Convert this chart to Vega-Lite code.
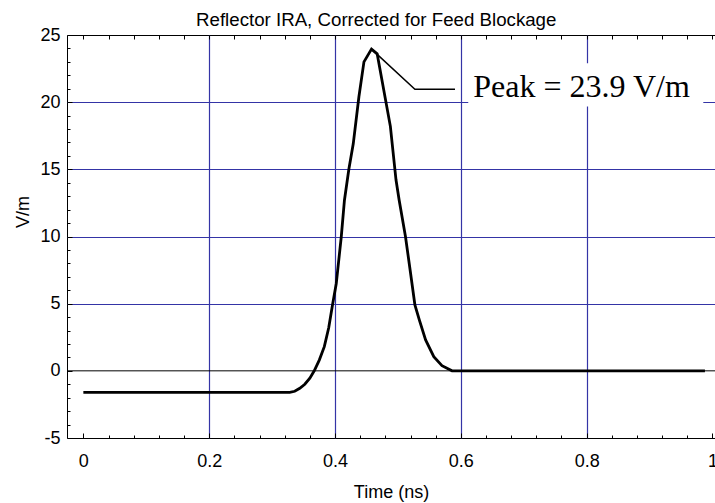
{
  "$schema": "https://vega.github.io/schema/vega-lite/v6.json",
  "width": 648,
  "height": 403,
  "autosize": {"type": "none"},
  "padding": {"left": 67, "top": 35, "right": 0, "bottom": 65},
  "background": "white",
  "config": {"view": {"stroke": "black", "strokeWidth": 1}},
  "title": {"text": "Reflector IRA, Corrected for Feed Blockage", "font": "Liberation Sans", "fontSize": 18.7, "fontWeight": "normal", "color": "black", "anchor": "start", "dx": 182, "baseline": "alphabetic", "offset": -19},
  "datasets": {
    "curve": [
      {"t": 0, "v": -1.6}, {"t": 0.328, "v": -1.6}, {"t": 0.336, "v": -1.52}, {"t": 0.344, "v": -1.3},
      {"t": 0.352, "v": -1.0}, {"t": 0.36, "v": -0.55}, {"t": 0.367, "v": 0.0}, {"t": 0.375, "v": 0.8},
      {"t": 0.383, "v": 1.8}, {"t": 0.39, "v": 3.2}, {"t": 0.396, "v": 4.9}, {"t": 0.402, "v": 6.5},
      {"t": 0.41, "v": 10.0}, {"t": 0.415, "v": 12.7}, {"t": 0.422, "v": 15.0}, {"t": 0.429, "v": 16.9},
      {"t": 0.438, "v": 20.4}, {"t": 0.446, "v": 23.0}, {"t": 0.458, "v": 23.95}, {"t": 0.467, "v": 23.6},
      {"t": 0.488, "v": 18.2}, {"t": 0.497, "v": 14.2}, {"t": 0.502, "v": 12.7}, {"t": 0.512, "v": 10.0},
      {"t": 0.52, "v": 7.3}, {"t": 0.527, "v": 4.9}, {"t": 0.534, "v": 3.8}, {"t": 0.544, "v": 2.3},
      {"t": 0.557, "v": 1.05}, {"t": 0.57, "v": 0.38}, {"t": 0.586, "v": 0.0}, {"t": 0.988, "v": 0.0}
    ],
    "callout": [
      {"t": 0.458, "v": 23.95}, {"t": 0.527, "v": 20.96}, {"t": 0.5907, "v": 20.96}
    ],
    "label": [{"t": 0.6198, "v": 20.41, "text": "Peak = 23.9 V/m"}],
    "box": [{"t": 0.6118, "t2": 0.9854, "v": 19.67, "v2": 22.9}],
    "zero": [{"v": 0}]
  },
  "resolve": {"axis": {"x": "independent", "y": "independent"}},
  "layer": [
    {
      "data": {"name": "box"},
      "mark": {"type": "rect", "fill": "white", "strokeWidth": 0},
      "encoding": {
        "x": {"field": "t", "type": "quantitative", "axis": null, "scale": {"domain": [-0.026, 1.004], "nice": false, "zero": false}},
        "x2": {"field": "t2"},
        "y": {"field": "v", "type": "quantitative", "axis": null, "scale": {"domain": [-5, 25], "nice": false, "zero": false}},
        "y2": {"field": "v2"}
      }
    },
    {
      "data": {"name": "zero"},
      "mark": {"type": "rule", "color": "black", "strokeWidth": 1},
      "encoding": {
        "y": {"field": "v", "type": "quantitative", "axis": null, "scale": {"domain": [-5, 25], "nice": false, "zero": false}}
      }
    },
    {
      "data": {"name": "curve"},
      "mark": {"type": "line", "color": "black", "strokeWidth": 2.8},
      "encoding": {
        "x": {"field": "t", "type": "quantitative", "scale": {"domain": [-0.026, 1.004], "nice": false, "zero": false},
          "axis": {"orient": "bottom", "values": [0, 0.2, 0.4, 0.6, 0.8, 1], "title": "Time (ns)",
            "titleFont": "Liberation Sans", "titleFontSize": 18, "titleFontWeight": "normal", "titleColor": "black",
            "titleBaseline": "alphabetic", "titleY": 59,
            "labelFont": "Liberation Sans", "labelFontSize": 18, "labelColor": "black", "labelPadding": 19,
            "labelFlush": false, "labelOverlap": false, "labelExpr": "'' + datum.value",
            "tickSize": -5, "tickColor": "black", "tickWidth": 1, "domain": false,
            "grid": true, "gridColor": "#3434a6", "gridWidth": 1.2,
            "gridOpacity": {"condition": {"test": "datum.value <= 0 || datum.value >= 1", "value": 0}, "value": 1}}},
        "y": {"field": "v", "type": "quantitative", "scale": {"domain": [-5, 25], "nice": false, "zero": false},
          "axis": {"orient": "left", "values": [-5, 0, 5, 10, 15, 20, 25], "title": "V/m",
            "titleFont": "Liberation Sans", "titleFontSize": 18, "titleFontWeight": "normal", "titleColor": "black",
            "titleAngle": -90, "titleBaseline": "alphabetic", "titleAlign": "center", "titleX": -39, "titleY": 176.5,
            "labelFont": "Liberation Sans", "labelFontSize": 18, "labelColor": "black", "labelPadding": 12,
            "labelFlush": false, "labelOverlap": false, "labelExpr": "'' + datum.value",
            "tickSize": -5, "tickColor": "black", "tickWidth": 1, "domain": false,
            "grid": true, "gridColor": "#3434a6", "gridWidth": 1.2,
            "gridOpacity": {"condition": {"test": "datum.value <= 0 || datum.value >= 25", "value": 0}, "value": 1}}}
      }
    },
    {
      "data": {"name": "callout"},
      "mark": {"type": "line", "color": "black", "strokeWidth": 1.5},
      "encoding": {
        "x": {"field": "t", "type": "quantitative", "scale": {"domain": [-0.026, 1.004], "nice": false, "zero": false},
          "axis": {"orient": "bottom", "values": [0.04, 0.08, 0.12, 0.16, 0.24, 0.28, 0.32, 0.36, 0.44, 0.48, 0.52, 0.56, 0.64, 0.68, 0.72, 0.76, 0.84, 0.88, 0.92, 0.96],
            "title": null, "labels": false, "domain": false, "grid": false, "tickSize": -3, "tickColor": "black", "tickWidth": 1}},
        "y": {"field": "v", "type": "quantitative", "scale": {"domain": [-5, 25], "nice": false, "zero": false},
          "axis": {"orient": "left", "values": [-4, -3, -2, -1, 1, 2, 3, 4, 6, 7, 8, 9, 11, 12, 13, 14, 16, 17, 18, 19, 21, 22, 23, 24],
            "title": null, "labels": false, "domain": false, "grid": false, "tickSize": -3, "tickColor": "black", "tickWidth": 1}}
      }
    },
    {
      "data": {"name": "label"},
      "mark": {"type": "text", "align": "left", "baseline": "alphabetic", "font": "Liberation Serif", "fontSize": 32, "color": "black"},
      "encoding": {
        "x": {"field": "t", "type": "quantitative", "scale": {"domain": [-0.026, 1.004], "nice": false, "zero": false},
          "axis": {"orient": "top", "values": [0, 0.04, 0.08, 0.12, 0.16, 0.2, 0.24, 0.28, 0.32, 0.36, 0.4, 0.44, 0.48, 0.52, 0.56, 0.6, 0.64, 0.68, 0.72, 0.76, 0.8, 0.84, 0.88, 0.92, 0.96, 1],
            "title": null, "labels": false, "domain": false, "grid": false, "tickSize": -4, "tickColor": "black", "tickWidth": 1}},
        "y": {"field": "v", "type": "quantitative", "axis": null, "scale": {"domain": [-5, 25], "nice": false, "zero": false}},
        "text": {"field": "text", "type": "nominal"}
      }
    }
  ]
}
